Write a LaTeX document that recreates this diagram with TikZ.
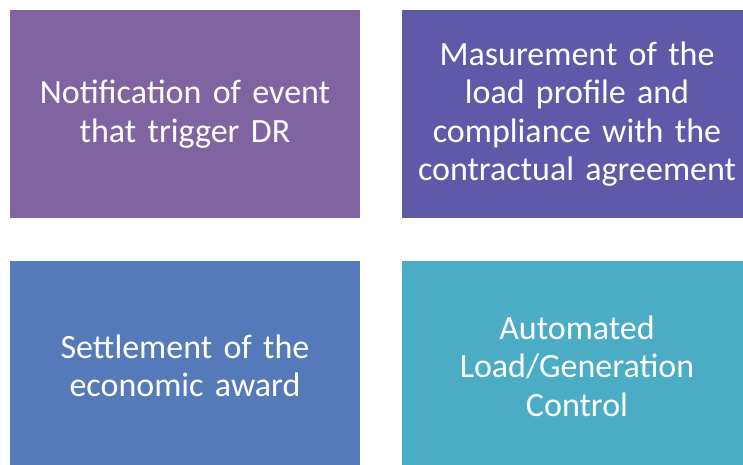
\documentclass[tikz,border=0pt]{standalone}
\usepackage{fontspec}
\setmainfont{Carlito}
\usepackage{tikz}

\definecolor{stepA}{RGB}{128,100,162}
\definecolor{stepB}{RGB}{96,88,168}
\definecolor{stepC}{RGB}{84,122,186}
\definecolor{stepD}{RGB}{75,172,198}

\tikzset{
    drbox/.style={fill=#1, text=white, minimum width=350pt, minimum height=208pt,
        text width=340pt, align=center, inner sep=0pt,
        font=\fontsize{34}{38.5}\selectfont}
}

\begin{document}
\begin{tikzpicture}[x=1pt, y=-1pt]
            \useasboundingbox (0,0) rectangle (743,464);
            \clip (0,0) rectangle (743,464);
            \node[drbox=stepA] (notify) at (185,114) {Notification of event\\that trigger DR};
            \node[drbox=stepB] (measure) at (577,114) {Masurement of the\\load profile and\\compliance with the\\contractual agreement};
            \node[drbox=stepC, minimum height=210pt] (settle) at (185,366) {Settlement of the\\economic award};
            \node[drbox=stepD, minimum height=210pt] (control) at (577,366) {Automated\\Load/Generation\\Control};
        \end{tikzpicture}
\end{document}
